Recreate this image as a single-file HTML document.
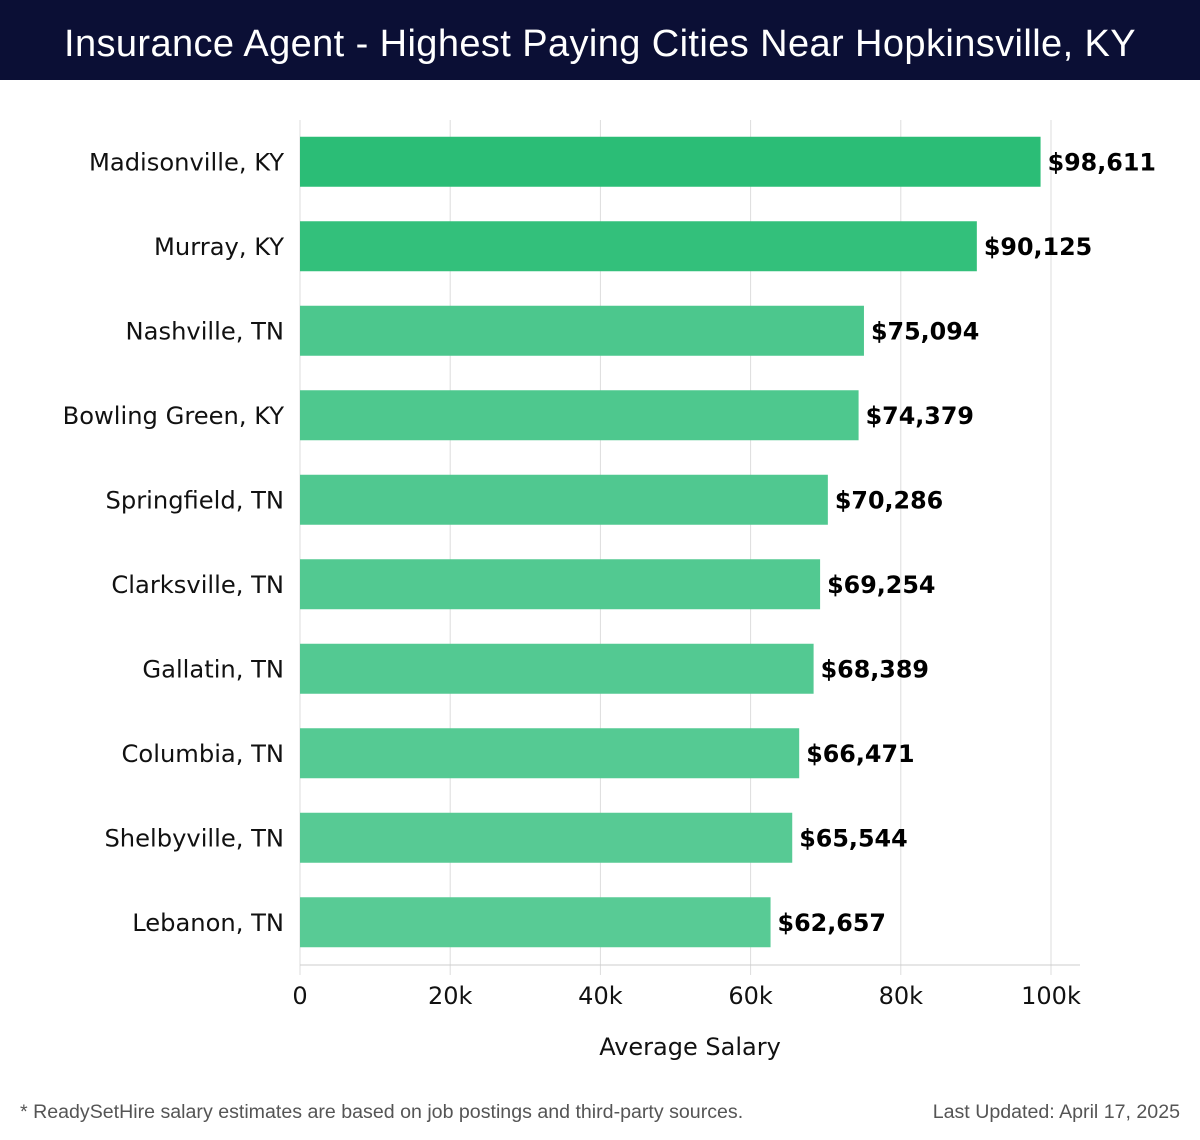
<!DOCTYPE html>
<html><head><meta charset="utf-8"><style>
body{margin:0;width:1200px;height:1140px;background:#fff;overflow:hidden;font-family:"DejaVu Sans","Liberation Sans",sans-serif}
#title{position:absolute;left:0;top:0;width:1200px;height:80px;background:#0b0f35;color:#fff;font-family:"Liberation Sans",sans-serif;font-size:38px;text-align:center;line-height:88px;letter-spacing:0.4px}
.foot{position:absolute;top:1101px;font-size:19.6px;color:#555;font-family:"Liberation Sans",sans-serif}
</style></head><body>
<div id="title">Insurance Agent - Highest Paying Cities Near Hopkinsville, KY</div>
<svg id="chart" width="1200" height="1090" style="position:absolute;left:0;top:0"></svg>
<div class="foot" style="left:20px">* ReadySetHire salary estimates are based on job postings and third-party sources.</div>
<div class="foot" style="right:20px">Last Updated: April 17, 2025</div>
<script>
const cities=["Madisonville, KY","Murray, KY","Nashville, TN","Bowling Green, KY","Springfield, TN","Clarksville, TN","Gallatin, TN","Columbia, TN","Shelbyville, TN","Lebanon, TN"];
const salaries=[98611,90125,75094,74379,70286,69254,68389,66471,65544,62657];
const ticks=[0,20000,40000,60000,80000,100000];
const tickLabels=["0","20k","40k","60k","80k","100k"];
const barColors=["#2bbd76","#33c07b","#4cc78d","#4ec88e","#50c890","#52c991","#53c992","#55ca93","#57ca94","#58cb95"];
const NS="http://www.w3.org/2000/svg";
const svg=document.getElementById('chart');
const x0=300,x1=1051,yTop=120,yBot=965;
const xs=v=>x0+(v/100000)*(x1-x0);
const band=(yBot-yTop)/cities.length;
const yc=i=>yTop+band*(i+0.5);
function mk(t,a){const e=document.createElementNS(NS,t);for(const k in a)e.setAttribute(k,a[k]);svg.appendChild(e);return e;}
ticks.forEach((t,i)=>{
 const g=mk('line',{x1:xs(t),x2:xs(t),y1:yTop,y2:yBot+10,stroke:'#ddd','stroke-width':1});
 
 
 const l=mk('text',{x:xs(t),y:1004,'text-anchor':'middle','font-size':24,fill:'#111'});
 l.textContent=tickLabels[i];
 
 
});
const ax=mk('line',{x1:x0,x2:1080,y1:yBot,y2:yBot,stroke:'#ccc','stroke-width':1});


cities.forEach((c,i)=>{
 const y=yc(i);
 const b=mk('rect',{x:x0,y:y-25.5,width:xs(salaries[i])-x0,height:50,fill:barColors[i]});
 
 
 const lb=mk('text',{x:284,y:y+8,'text-anchor':'end','font-size':24.2,fill:'#111'});
 lb.textContent=c;
 
 
 const v=mk('text',{x:xs(salaries[i])+7,y:y+8,'font-size':23.8,'font-weight':'bold',fill:'#000'});
 v.textContent='$'+salaries[i].toLocaleString('en-US');
 
 
});
const at=mk('text',{x:690,y:1055,'text-anchor':'middle','font-size':24,fill:'#111'});
at.textContent='Average Salary';


</script>
</body></html>
